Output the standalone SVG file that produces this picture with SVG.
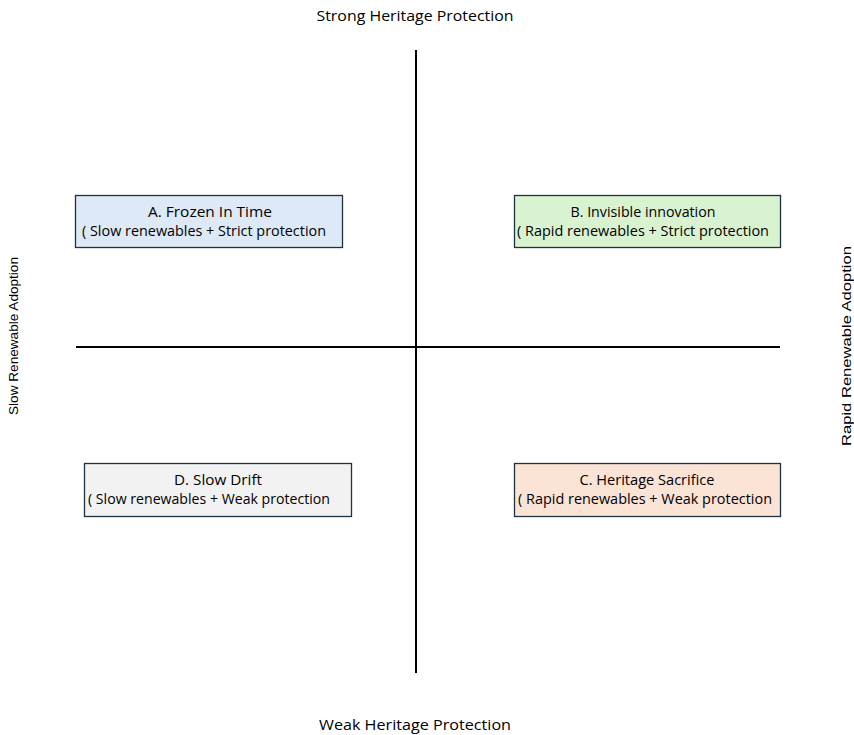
<svg xmlns="http://www.w3.org/2000/svg" width="854" height="735" viewBox="0 0 854 735">
<style>
.t{font-family:"Open Sans","Liberation Sans",sans-serif;font-size:14px;fill:#000;text-anchor:middle}
.h{font-family:"Open Sans","Liberation Sans",sans-serif;font-size:15px;fill:#000;text-anchor:middle}
.s{font-family:"Liberation Sans",Arial,sans-serif;font-size:13.5px;fill:#000;text-anchor:middle}
.box{stroke:#1e3246;stroke-width:1.3}
.axis{stroke:#000;stroke-width:2}
</style>
<rect width="854" height="735" fill="#fff"/>
<g id="axes">
<line class="axis" x1="416" y1="50" x2="416" y2="673"/>
<line class="axis" x1="76" y1="347" x2="780" y2="347"/>
</g>
<text class="h" x="415" y="21" textLength="197" lengthAdjust="spacingAndGlyphs">Strong Heritage Protection</text>
<text class="h" x="415" y="730" textLength="192" lengthAdjust="spacingAndGlyphs">Weak Heritage Protection</text>
<text class="s" transform="translate(18,336) rotate(-90)" textLength="158" lengthAdjust="spacingAndGlyphs">Slow Renewable Adoption</text>
<text class="s" transform="translate(851,346) rotate(-90)" textLength="200" lengthAdjust="spacingAndGlyphs">Rapid Renewable Adoption</text>
<g id="nodeA">
<rect class="box" x="75.5" y="195.5" width="267" height="52" fill="#dde9f6"/>
<text class="t" x="210" y="217" textLength="124" lengthAdjust="spacingAndGlyphs">A. Frozen In Time</text>
<text class="t" x="204" y="236" textLength="244" lengthAdjust="spacingAndGlyphs">( Slow renewables + Strict protection</text>
</g>
<g id="nodeB">
<rect class="box" x="514.5" y="195.5" width="266" height="52" fill="#d9f2d0"/>
<text class="t" x="643" y="217" textLength="145" lengthAdjust="spacingAndGlyphs">B. Invisible innovation</text>
<text class="t" x="643" y="236" textLength="252" lengthAdjust="spacingAndGlyphs">( Rapid renewables + Strict protection</text>
</g>
<g id="nodeD">
<rect class="box" x="84.5" y="463.5" width="267" height="53" fill="#f2f2f2"/>
<text class="t" x="218" y="485" textLength="88" lengthAdjust="spacingAndGlyphs">D. Slow Drift</text>
<text class="t" x="209" y="504" textLength="242" lengthAdjust="spacingAndGlyphs">( Slow renewables + Weak protection</text>
</g>
<g id="nodeC">
<rect class="box" x="514.5" y="463.5" width="266" height="53" fill="#fbe3d6"/>
<text class="t" x="647" y="485" textLength="135" lengthAdjust="spacingAndGlyphs">C. Heritage Sacrifice</text>
<text class="t" x="645" y="504" textLength="254" lengthAdjust="spacingAndGlyphs">( Rapid renewables + Weak protection</text>
</g>
</svg>
